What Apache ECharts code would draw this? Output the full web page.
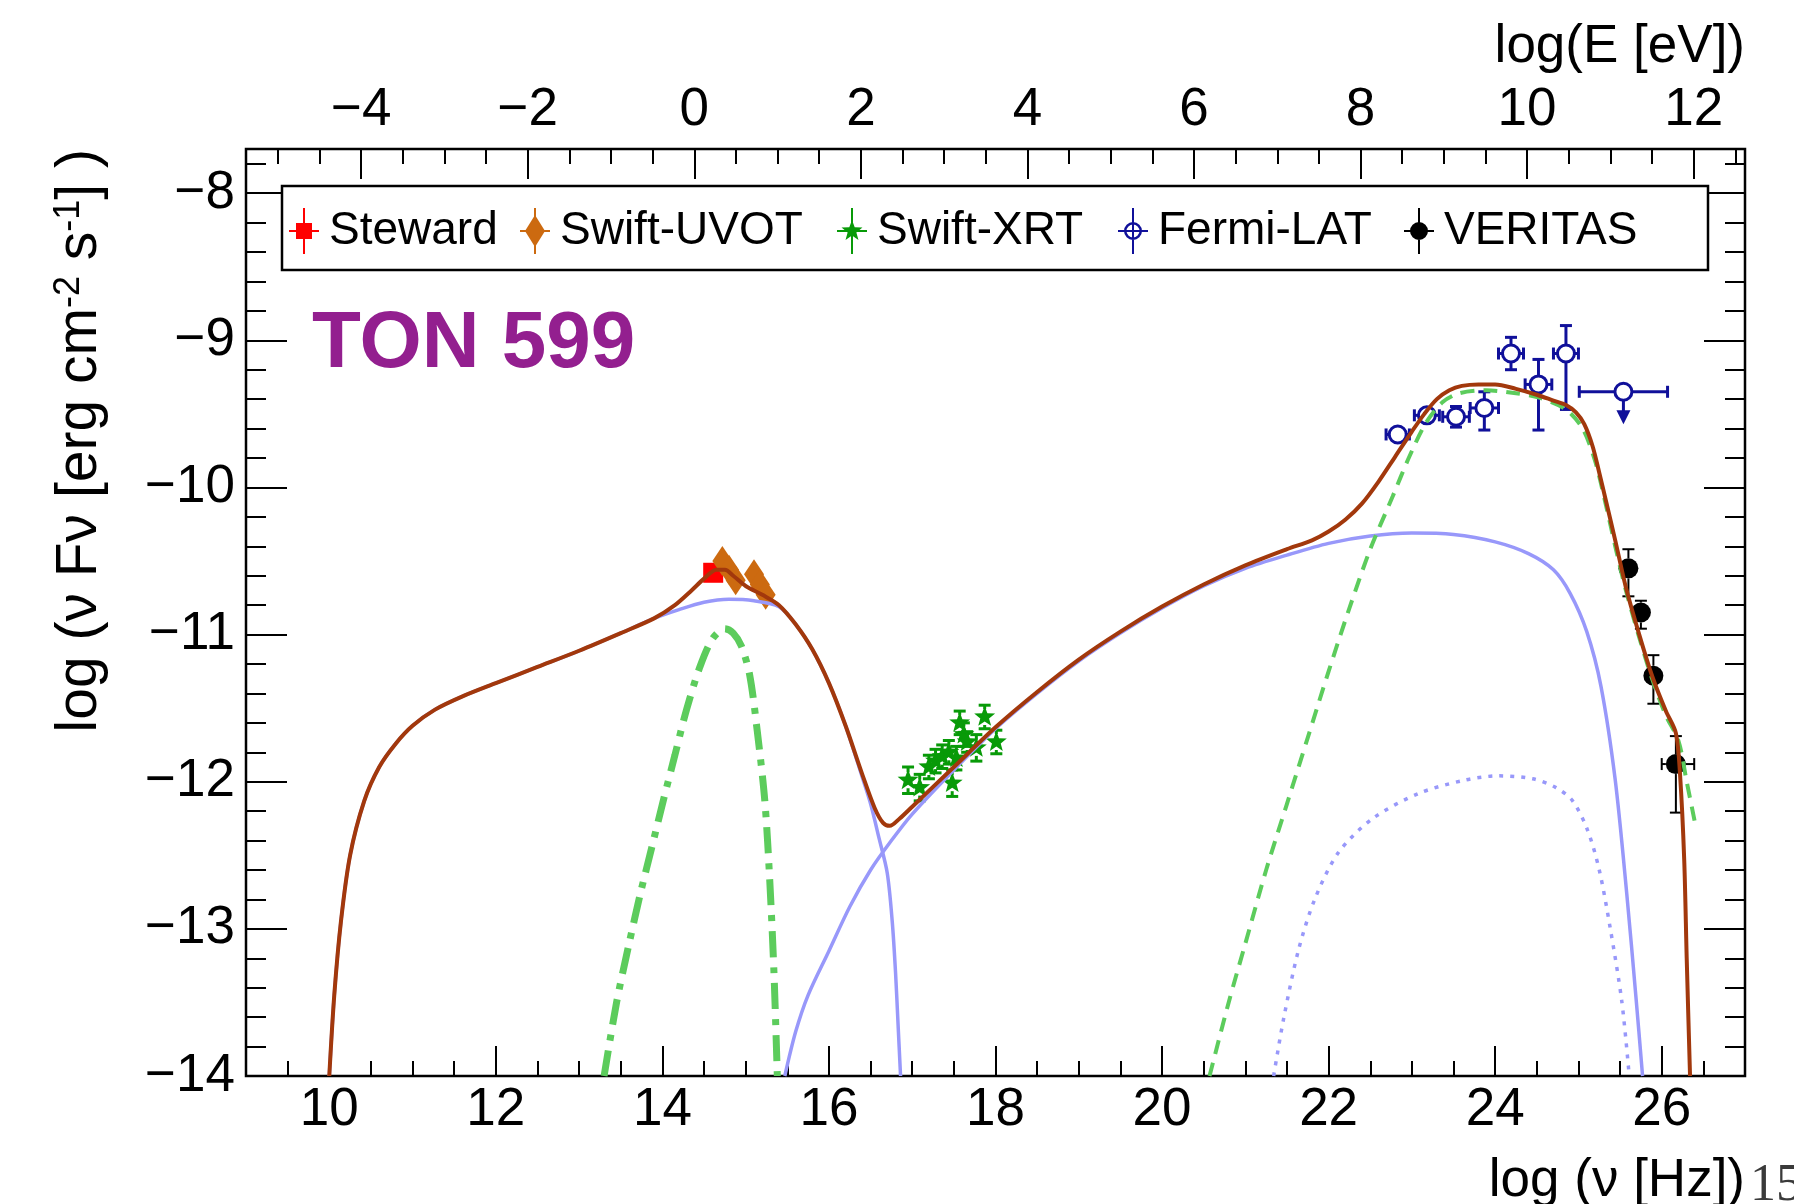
<!DOCTYPE html>
<html>
<head>
<meta charset="utf-8">
<title>TON 599 SED</title>
<script src="https://cdn.jsdelivr.net/npm/echarts@6/dist/echarts.min.js"></script>
<style>
  html, body { margin: 0; padding: 0; background: #ffffff; }
  #chart { width: 1794px; height: 1204px; }
</style>
</head>
<body>
<div id="chart"></div>
<script>
// ---------- tick labels ----------
const nuTicks = [10, 12, 14, 16, 18, 20, 22, 24, 26];
const energyTicks = [-4, -2, 0, 2, 4, 6, 8, 10, 12];
const fluxTicks = [-14, -13, -12, -11, -10, -9, -8];
const LOG_H_EV = -14.3834;          // log10 of Planck constant in eV s
const NU_MIN = 9, NU_MAX = 27;
const F_MIN = -14, F_MAX = -7.7;

// ---------- data points: [log nu, log nuFnu, dx-, dx+, dy-, dy+] ----------
const stewardPts = [
  [14.61, -10.58, 0, 0, 0, 0]
];
const uvotPts = [
  [14.72, -10.50, 0, 0, 0, 0],
  [14.80, -10.56, 0, 0, 0, 0],
  [14.88, -10.63, 0, 0, 0, 0],
  [15.10, -10.59, 0, 0, 0, 0],
  [15.17, -10.66, 0, 0, 0, 0],
  [15.24, -10.73, 0, 0, 0, 0]
];
const xrtPts = [
  [16.95, -11.99, 0, 0, 0.09, 0.09],
  [17.09, -12.04, 0, 0, 0.09, 0.09],
  [17.20, -11.90, 0, 0, 0.08, 0.08],
  [17.28, -11.86, 0, 0, 0.08, 0.08],
  [17.36, -11.83, 0, 0, 0.08, 0.08],
  [17.44, -11.80, 0, 0, 0.08, 0.08],
  [17.48, -12.01, 0, 0, 0.09, 0.09],
  [17.53, -11.84, 0, 0, 0.08, 0.08],
  [17.57, -11.60, 0, 0, 0.08, 0.08],
  [17.62, -11.68, 0, 0, 0.08, 0.08],
  [17.66, -11.73, 0, 0, 0.07, 0.07],
  [17.77, -11.77, 0, 0, 0.09, 0.09],
  [17.87, -11.56, 0, 0, 0.08, 0.08],
  [18.01, -11.73, 0, 0, 0.08, 0.08]
];
const fermiPts = [
  [22.83, -9.64, 0.14, 0.14, 0.06, 0.06],
  [23.18, -9.51, 0.15, 0.15, 0.06, 0.06],
  [23.53, -9.52, 0.16, 0.16, 0.07, 0.07],
  [23.87, -9.46, 0.17, 0.17, 0.15, 0.11],
  [24.19, -9.09, 0.15, 0.15, 0.11, 0.11],
  [24.52, -9.30, 0.16, 0.16, 0.31, 0.17],
  [24.85, -9.09, 0.15, 0.15, 0.38, 0.19]
];
// upper limit: [log nu, log nuFnu, dx-, dx+, arrow length]
const fermiUpperLimits = [
  [25.54, -9.35, 0.53, 0.53, 0.22]
];
const veritasPts = [
  [25.60, -10.55, 0, 0, 0.19, 0.13],
  [25.75, -10.85, 0, 0, 0.11, 0.08],
  [25.90, -11.28, 0, 0, 0.19, 0.14],
  [26.17, -11.88, 0.17, 0.22, 0.33, 0.19]
];

// ---------- model curves: [log nu, log nuFnu] ----------
const totalModel = [
  [10.0, -14.0], [10.06, -13.45], [10.14, -12.95], [10.25, -12.5], [10.42, -12.13],
  [10.6, -11.9], [10.8, -11.74], [11.0, -11.62], [11.27, -11.51], [11.6, -11.42],
  [12.0, -11.33], [12.5, -11.22], [13.0, -11.11], [13.5, -10.99], [13.9, -10.89],
  [14.15, -10.80], [14.35, -10.70], [14.5, -10.62], [14.65, -10.56], [14.75, -10.56],
  [14.85, -10.60], [15.0, -10.67], [15.2, -10.73], [15.4, -10.80], [15.6, -10.93],
  [15.8, -11.10], [16.0, -11.33], [16.2, -11.62], [16.4, -11.95], [16.55, -12.18],
  [16.65, -12.28], [16.73, -12.30], [16.85, -12.25], [17.0, -12.17], [17.5, -11.90],
  [18.0, -11.63], [18.5, -11.39], [19.0, -11.17], [19.5, -10.98], [20.0, -10.81],
  [20.5, -10.66], [21.0, -10.53], [21.5, -10.42], [21.8, -10.36], [22.0, -10.30],
  [22.2, -10.22], [22.4, -10.11], [22.6, -9.96], [22.8, -9.79], [23.0, -9.62],
  [23.15, -9.50], [23.3, -9.40], [23.45, -9.34], [23.6, -9.31], [23.8, -9.30],
  [24.0, -9.30], [24.25, -9.33], [24.5, -9.37], [24.7, -9.41], [24.85, -9.44],
  [24.97, -9.49], [25.07, -9.57], [25.17, -9.72], [25.25, -9.90], [25.33, -10.09],
  [25.45, -10.38], [25.57, -10.68], [25.73, -11.0], [25.89, -11.29], [26.05, -11.52],
  [26.17, -11.67], [26.22, -11.95], [26.27, -12.53], [26.30, -13.2], [26.34, -14.0]
];
const synchrotron = [
  [10.0, -14.0], [10.06, -13.45], [10.14, -12.95], [10.25, -12.5], [10.42, -12.13],
  [10.6, -11.9], [10.8, -11.74], [11.0, -11.62], [11.27, -11.51], [11.6, -11.42],
  [12.0, -11.33], [12.5, -11.22], [13.0, -11.11], [13.5, -10.99], [13.9, -10.89],
  [14.2, -10.83], [14.5, -10.78], [14.8, -10.76], [15.1, -10.77], [15.4, -10.81],
  [15.6, -10.93], [15.8, -11.10], [16.0, -11.33], [16.2, -11.62], [16.4, -11.97],
  [16.5, -12.15], [16.6, -12.38], [16.7, -12.62], [16.76, -12.95], [16.8, -13.3],
  [16.83, -13.65], [16.86, -14.0]
];
const sscModel = [
  [15.47, -14.0], [15.6, -13.7], [15.75, -13.45], [16.0, -13.15], [16.25, -12.85],
  [16.5, -12.6], [16.75, -12.4], [17.0, -12.22], [17.5, -11.92], [18.0, -11.64],
  [18.5, -11.40], [19.0, -11.18], [19.5, -10.99], [20.0, -10.82], [20.5, -10.67],
  [21.0, -10.55], [21.5, -10.46], [22.0, -10.38], [22.5, -10.33], [23.0, -10.31],
  [23.5, -10.32], [24.0, -10.37], [24.4, -10.45], [24.7, -10.56], [24.9, -10.72],
  [25.1, -10.98], [25.27, -11.35], [25.44, -11.98], [25.58, -12.76], [25.69, -13.46],
  [25.77, -14.0]
];
const diskModel = [
  [13.30, -14.0], [13.45, -13.5], [13.6, -13.1], [13.74, -12.75], [13.88, -12.43],
  [14.01, -12.13], [14.15, -11.82], [14.29, -11.51], [14.45, -11.22], [14.6, -11.03],
  [14.75, -10.96], [14.85, -10.99], [14.95, -11.08], [15.05, -11.28], [15.14, -11.66],
  [15.23, -12.13], [15.29, -12.68], [15.34, -13.3], [15.38, -14.0]
];
const externalCompton = [
  [20.57, -14.0], [20.8, -13.5], [21.0, -13.1], [21.25, -12.6], [21.5, -12.15],
  [21.75, -11.7], [22.0, -11.25], [22.25, -10.82], [22.5, -10.42], [22.77, -10.06],
  [22.97, -9.79], [23.17, -9.56], [23.37, -9.42], [23.57, -9.36], [23.89, -9.34],
  [24.25, -9.36], [24.53, -9.39], [24.85, -9.47], [25.05, -9.60], [25.2, -9.82],
  [25.33, -10.12], [25.45, -10.42], [25.57, -10.70], [25.73, -11.02], [25.89, -11.31],
  [26.05, -11.55], [26.2, -11.72], [26.3, -12.0], [26.4, -12.28]
];
const ecSecondary = [
  [21.34, -14.0], [21.46, -13.61], [21.64, -13.14], [21.84, -12.79], [22.12, -12.48],
  [22.53, -12.25], [23.08, -12.08], [23.63, -11.99], [24.04, -11.96], [24.45, -11.98],
  [24.73, -12.04], [24.93, -12.13], [25.11, -12.33], [25.25, -12.60], [25.38, -12.99],
  [25.52, -13.49], [25.61, -14.0]
];

// ---------- styling ----------
const FONT = '"Liberation Sans", Arial, Helvetica, sans-serif';
const MINUS = '\u2212';
const fmt = v => (v < 0 ? MINUS : '') + Math.abs(Math.round(v * 1000) / 1000);

const COL = {
  steward: '#ff0000', uvot: '#cc6a10', xrt: '#089a08', fermi: '#10109a', veritas: '#000000',
  total: '#a2380c', blue: '#9898fa', green: '#5ccc5c'
};

function minorSteps(lo, hi, step, skip) {
  const out = [];
  for (let v = lo; v <= hi + 1e-9; v += step) {
    const r = Math.round(v * 100) / 100;
    if (!skip.some(s => Math.abs(s - r) < 1e-6)) out.push(r);
  }
  return out;
}

function tickAxis(position, min, max, values, len, labelOpts) {
  return {
    type: 'value', position, min, max,
    axisLine: { show: false, onZero: false },
    splitLine: { show: false },
    axisTick: { show: true, inside: true, length: len, customValues: values,
                lineStyle: { color: '#000', width: 2 } },
    axisLabel: labelOpts
      ? Object.assign({ show: true, customValues: values, formatter: fmt, color: '#000',
                        fontFamily: FONT, fontSize: 53 }, labelOpts)
      : { show: false }
  };
}

const E_MIN = NU_MIN + LOG_H_EV, E_MAX = NU_MAX + LOG_H_EV;
const xAxes = [
  tickAxis('bottom', NU_MIN, NU_MAX, nuTicks, 30, { margin: 8 }),
  tickAxis('bottom', NU_MIN, NU_MAX, minorSteps(9.5, 26.5, 0.5, nuTicks), 15, null),
  tickAxis('top', E_MIN, E_MAX, energyTicks, 30, { margin: 12 }),
  tickAxis('top', E_MIN, E_MAX, minorSteps(-5, 12.5, 0.5, energyTicks), 15, null)
];
const yAxes = [
  tickAxis('left', F_MIN, F_MAX, fluxTicks, 41, { margin: 11 }),
  tickAxis('left', F_MIN, F_MAX, minorSteps(-13.8, -7.8, 0.2, fluxTicks), 20, null),
  tickAxis('right', F_MIN, F_MAX, fluxTicks, 41, null),
  tickAxis('right', F_MIN, F_MAX, minorSteps(-13.8, -7.8, 0.2, fluxTicks), 20, null)
];

// ---------- marker + error bar drawing ----------
function starPts(cx, cy, R, r) {
  const pts = [];
  for (let i = 0; i < 10; i++) {
    const a = -Math.PI / 2 + i * Math.PI / 5;
    const rad = i % 2 ? r : R;
    pts.push([cx + rad * Math.cos(a), cy + rad * Math.sin(a)]);
  }
  return pts;
}

function markerShape(kind, c, color) {
  switch (kind) {
    case 'square':
      return { type: 'rect', shape: { x: c[0] - 10, y: c[1] - 10, width: 20, height: 20 }, style: { fill: color } };
    case 'diamond':
      return { type: 'polygon', shape: { points: [[c[0], c[1] - 15], [c[0] + 10, c[1]], [c[0], c[1] + 15], [c[0] - 10, c[1]]] }, style: { fill: color } };
    case 'star':
      return { type: 'polygon', shape: { points: starPts(c[0], c[1], 11, 4.6) }, style: { fill: color } };
    case 'open':
      return { type: 'circle', shape: { cx: c[0], cy: c[1], r: 8.5 }, style: { fill: 'rgba(255,255,255,0)', stroke: color, lineWidth: 3 } };
    default:
      return { type: 'circle', shape: { cx: c[0], cy: c[1], r: 10 }, style: { fill: color } };
  }
}

function pointRenderer(kind, color, gap, cap, lw) {
  return function (params, api) {
    const x = api.value(0), y = api.value(1);
    const xl = api.value(2), xh = api.value(3), yl = api.value(4), yh = api.value(5);
    const c = api.coord([x, y]);
    const L = api.coord([x - xl, y]), R = api.coord([x + xh, y]);
    const T = api.coord([x, y + yh]), B = api.coord([x, y - yl]);
    const kids = [];
    const seg = (x1, y1, x2, y2) => kids.push({ type: 'line', shape: { x1, y1, x2, y2 }, style: { stroke: color, lineWidth: lw } });
    if (xl > 0 && c[0] - L[0] > gap) { seg(L[0], c[1], c[0] - gap, c[1]); seg(L[0], c[1] - cap, L[0], c[1] + cap); }
    if (xh > 0 && R[0] - c[0] > gap) { seg(c[0] + gap, c[1], R[0], c[1]); seg(R[0], c[1] - cap, R[0], c[1] + cap); }
    if (yh > 0 && c[1] - T[1] > gap) { seg(c[0], T[1], c[0], c[1] - gap); seg(c[0] - cap, T[1], c[0] + cap, T[1]); }
    if (yl > 0 && B[1] - c[1] > gap) { seg(c[0], c[1] + gap, c[0], B[1]); seg(c[0] - cap, B[1], c[0] + cap, B[1]); }
    kids.push(markerShape(kind, c, color));
    return { type: 'group', children: kids };
  };
}

function upperLimitRenderer(color) {
  return function (params, api) {
    const x = api.value(0), y = api.value(1);
    const c = api.coord([x, y]);
    const L = api.coord([x - api.value(2), y]), R = api.coord([x + api.value(3), y]);
    const tip = api.coord([x, y - api.value(4)]);
    const kids = [];
    const seg = (x1, y1, x2, y2) => kids.push({ type: 'line', shape: { x1, y1, x2, y2 }, style: { stroke: color, lineWidth: 3 } });
    seg(L[0], c[1], c[0] - 9, c[1]); seg(L[0], c[1] - 6, L[0], c[1] + 6);
    seg(c[0] + 9, c[1], R[0], c[1]); seg(R[0], c[1] - 6, R[0], c[1] + 6);
    seg(c[0], c[1] + 9, c[0], tip[1] - 12);
    kids.push({ type: 'polygon', shape: { points: [[c[0] - 7, tip[1] - 14], [c[0] + 7, tip[1] - 14], [c[0], tip[1]]] }, style: { fill: color } });
    kids.push(markerShape('open', c, color));
    return { type: 'group', children: kids };
  };
}

function pointSeries(name, data, kind, color, gap, cap, lw) {
  return {
    type: 'custom', name, data, xAxisIndex: 0, yAxisIndex: 0,
    encode: { x: 0, y: 1 }, itemStyle: { color }, z: 2, silent: true,
    renderItem: pointRenderer(kind, color, gap, cap, lw)
  };
}

function curve(name, data, color, width, type, z) {
  return {
    type: 'line', name, data, xAxisIndex: 0, yAxisIndex: 0,
    symbol: 'none', showSymbol: false, smooth: 0.3, silent: true,
    lineStyle: { color, width, type, cap: 'butt' }, z
  };
}

// ---------- legend icons (30 x 46 boxes) ----------
const BARS = 'M14,0h2v46h-2z M0,22h30v2h-30z';
const starIcon = 'M' + starPts(15, 23, 11, 4.6).map(p => p[0].toFixed(2) + ',' + p[1].toFixed(2)).join('L') + 'Z';
const icons = {
  'Steward': 'path://' + BARS + ' M7,15h16v16h-16z',
  'Swift-UVOT': 'path://' + BARS + ' M15,7L25,23L15,39L5,23Z',
  'Swift-XRT': 'path://' + BARS + ' ' + starIcon,
  'Fermi-LAT': 'path://' + BARS + ' M6,23A9,9,0,1,1,24,23A9,9,0,1,1,6,23Z M8.5,23A6.5,6.5,0,1,0,21.5,23A6.5,6.5,0,1,0,8.5,23Z',
  'VERITAS': 'path://' + BARS + ' M6,23A9,9,0,1,1,24,23A9,9,0,1,1,6,23Z'
};
const legendSlots = [
  ['Steward', 289, COL.steward], ['Swift-UVOT', 520, COL.uvot], ['Swift-XRT', 837, COL.xrt],
  ['Fermi-LAT', 1118, COL.fermi], ['VERITAS', 1404, COL.veritas]
];
const legends = legendSlots.map(([name, left, color]) => ({
  data: [{ name, icon: icons[name], itemStyle: { color, borderWidth: 0 } }],
  left, top: 208, padding: 0, itemWidth: 30, itemHeight: 46, z: 6,
  selectedMode: false,
  textStyle: { fontFamily: FONT, fontSize: 46, color: '#000', padding: [0, 0, 0, 5] }
}));

const option = {
  animation: false,
  backgroundColor: '#ffffff',
  grid: {
    left: 246, top: 149, width: 1499, height: 927,
    show: true, borderColor: '#000', borderWidth: 2.5, backgroundColor: 'rgba(0,0,0,0)',
    containLabel: false, outerBoundsMode: 'none'
  },
  xAxis: xAxes,
  yAxis: yAxes,
  legend: legends,
  graphic: [
    { type: 'rect', z: 3, shape: { x: 282, y: 186, width: 1426, height: 84 },
      style: { fill: '#fff', stroke: '#000', lineWidth: 2.5 } },
    { type: 'text', z: 5, x: 312, y: 305,
      style: { text: 'TON 599', fill: '#931f8f', font: 'bold 80px ' + FONT, verticalAlign: 'top' } },
    { type: 'text', z: 5, x: 1745, y: 21,
      style: { text: 'log(E [eV])', fill: '#000', font: '53px ' + FONT, align: 'right', verticalAlign: 'top' } },
    { type: 'text', z: 5, x: 1745, y: 1155,
      style: { text: 'log (ν [Hz])', fill: '#000', font: '53px ' + FONT, align: 'right', verticalAlign: 'top' } },
    { type: 'text', z: 5, x: 1750, y: 1160,
      style: { text: '15', fill: '#3a3a3a', font: '52px "Liberation Serif", "Times New Roman", serif', verticalAlign: 'top' } },
    { type: 'text', z: 5, x: 80, y: 149, rotation: Math.PI / 2,
      style: {
        text: '{a|log (ν Fν [erg cm}{s|-2}{a| s}{s|-1}{a|] )}',
        align: 'right', verticalAlign: 'middle',
        rich: {
          a: { fontSize: 57, fontFamily: FONT, fill: '#000' },
          s: { fontSize: 36, fontFamily: FONT, fill: '#000', verticalAlign: 'top' }
        }
      } }
  ],
  series: [
    pointSeries('Steward', stewardPts, 'square', COL.steward, 10, 6, 2),
    pointSeries('Swift-UVOT', uvotPts, 'diamond', COL.uvot, 14, 6, 2),
    pointSeries('Swift-XRT', xrtPts, 'star', COL.xrt, 8, 6, 3),
    pointSeries('Fermi-LAT', fermiPts, 'open', COL.fermi, 9, 6, 3),
    {
      type: 'custom', name: 'Fermi-LAT', data: fermiUpperLimits, xAxisIndex: 0, yAxisIndex: 0,
      encode: { x: 0, y: 1 }, itemStyle: { color: COL.fermi }, z: 2, silent: true,
      renderItem: upperLimitRenderer(COL.fermi)
    },
    pointSeries('VERITAS', veritasPts, 'filled', COL.veritas, 10, 6, 2),
    curve('disk', diskModel, COL.green, 7, [26, 10, 6, 10], 3),
    curve('synchrotron', synchrotron, COL.blue, 3.5, 'solid', 3),
    curve('ssc', sscModel, COL.blue, 3.5, 'solid', 3),
    curve('ec-secondary', ecSecondary, COL.blue, 3.5, [4, 7], 3),
    curve('external-compton', externalCompton, COL.green, 4, [14, 9], 3),
    curve('total', totalModel, COL.total, 4, 'solid', 4)
  ]
};

const chart = echarts.init(document.getElementById('chart'), null, { renderer: 'canvas' });
chart.setOption(option);
</script>
</body>
</html>
